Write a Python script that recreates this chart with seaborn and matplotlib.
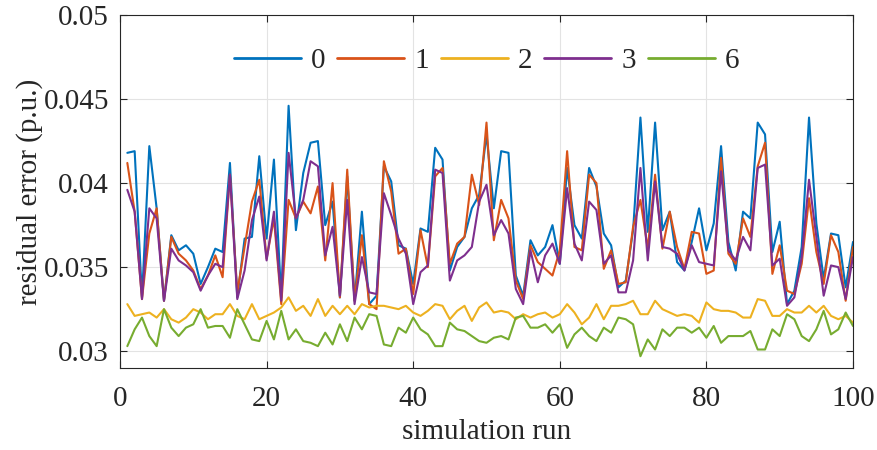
import numpy as np
import pandas as pd
import matplotlib
matplotlib.use("Agg")
import matplotlib.pyplot as plt
import seaborn as sns

runs = list(range(1, 101))
series_names = ["0", "1", "2", "3", "6"]

err_0 = [0.0418, 0.0419, 0.0332, 0.0422, 0.0385, 0.0330, 0.0369, 0.0360, 0.0363, 0.0358,
         0.0340, 0.0350, 0.0361, 0.0359, 0.0412, 0.0332, 0.0367, 0.0368, 0.0416, 0.0367,
         0.0414, 0.0332, 0.0446, 0.0372, 0.0406, 0.0424, 0.0425, 0.0375, 0.0389, 0.0332,
         0.0404, 0.0330, 0.0383, 0.0328, 0.0333, 0.0410, 0.0401, 0.0363, 0.0361, 0.0340,
         0.0373, 0.0371, 0.0421, 0.0414, 0.0348, 0.0362, 0.0368, 0.0385, 0.0393, 0.0429,
         0.0385, 0.0419, 0.0418, 0.0345, 0.0333, 0.0366, 0.0357, 0.0362, 0.0375, 0.0352,
         0.0409, 0.0375, 0.0367, 0.0409, 0.0398, 0.0370, 0.0363, 0.0338, 0.0342, 0.0372,
         0.0439, 0.0371, 0.0436, 0.0372, 0.0383, 0.0353, 0.0348, 0.0365, 0.0385, 0.0360,
         0.0376, 0.0422, 0.0365, 0.0348, 0.0383, 0.0379, 0.0436, 0.0429, 0.0359, 0.0377,
         0.0328, 0.0336, 0.0362, 0.0439, 0.0376, 0.0343, 0.0370, 0.0369, 0.0338, 0.0365]

err_1 = [0.0412, 0.0383, 0.0331, 0.0370, 0.0385, 0.0330, 0.0368, 0.0358, 0.0354, 0.0348,
         0.0337, 0.0345, 0.0357, 0.0344, 0.0405, 0.0335, 0.0362, 0.0389, 0.0402, 0.0355,
         0.0379, 0.0328, 0.0390, 0.0379, 0.0389, 0.0382, 0.0398, 0.0354, 0.0400, 0.0332,
         0.0408, 0.0330, 0.0369, 0.0328, 0.0325, 0.0413, 0.0395, 0.0358, 0.0361, 0.0334,
         0.0372, 0.0350, 0.0404, 0.0409, 0.0352, 0.0364, 0.0368, 0.0405, 0.0387, 0.0436,
         0.0366, 0.0390, 0.0379, 0.0342, 0.0331, 0.0363, 0.0353, 0.0349, 0.0345, 0.0360,
         0.0419, 0.0362, 0.0360, 0.0405, 0.0400, 0.0349, 0.0360, 0.0340, 0.0341, 0.0374,
         0.0390, 0.0361, 0.0405, 0.0361, 0.0383, 0.0362, 0.0349, 0.0371, 0.0370, 0.0346,
         0.0348, 0.0415, 0.0358, 0.0352, 0.0379, 0.0368, 0.0410, 0.0424, 0.0346, 0.0363,
         0.0336, 0.0334, 0.0352, 0.0391, 0.0359, 0.0340, 0.0369, 0.0359, 0.0330, 0.0362]

err_2 = [0.0328, 0.0321, 0.0322, 0.0323, 0.0320, 0.0325, 0.0319, 0.0317, 0.0320, 0.0325,
         0.0323, 0.0319, 0.0322, 0.0322, 0.0328, 0.0321, 0.0319, 0.0328, 0.0319, 0.0321,
         0.0323, 0.0326, 0.0332, 0.0324, 0.0327, 0.0321, 0.0331, 0.0321, 0.0327, 0.0322,
         0.0327, 0.0322, 0.0328, 0.0326, 0.0327, 0.0327, 0.0326, 0.0325, 0.0327, 0.0323,
         0.0321, 0.0324, 0.0328, 0.0327, 0.0319, 0.0324, 0.0327, 0.0318, 0.0326, 0.0329,
         0.0323, 0.0324, 0.0323, 0.0319, 0.0322, 0.0320, 0.0322, 0.0323, 0.0320, 0.0322,
         0.0328, 0.0323, 0.0316, 0.0320, 0.0328, 0.0319, 0.0327, 0.0327, 0.0328, 0.0330,
         0.0322, 0.0322, 0.0330, 0.0325, 0.0323, 0.0321, 0.0322, 0.0321, 0.0317, 0.0329,
         0.0325, 0.0324, 0.0324, 0.0323, 0.0320, 0.0320, 0.0331, 0.0330, 0.0321, 0.0321,
         0.0325, 0.0323, 0.0323, 0.0327, 0.0323, 0.0327, 0.0321, 0.0319, 0.0321, 0.0317]

err_3 = [0.0396, 0.0383, 0.0331, 0.0385, 0.0379, 0.0330, 0.0361, 0.0354, 0.0351, 0.0347,
         0.0336, 0.0345, 0.0352, 0.0350, 0.0405, 0.0331, 0.0348, 0.0378, 0.0392, 0.0354,
         0.0383, 0.0330, 0.0418, 0.0379, 0.0390, 0.0413, 0.0410, 0.0357, 0.0374, 0.0333,
         0.0390, 0.0328, 0.0356, 0.0335, 0.0334, 0.0394, 0.0381, 0.0367, 0.0358, 0.0328,
         0.0347, 0.0351, 0.0408, 0.0406, 0.0342, 0.0354, 0.0357, 0.0362, 0.0389, 0.0399,
         0.0369, 0.0378, 0.0370, 0.0337, 0.0328, 0.0360, 0.0341, 0.0357, 0.0364, 0.0352,
         0.0397, 0.0364, 0.0354, 0.0389, 0.0384, 0.0352, 0.0357, 0.0335, 0.0335, 0.0354,
         0.0409, 0.0354, 0.0401, 0.0362, 0.0361, 0.0358, 0.0348, 0.0363, 0.0353, 0.0352,
         0.0351, 0.0407, 0.0360, 0.0354, 0.0368, 0.0360, 0.0409, 0.0411, 0.0351, 0.0355,
         0.0327, 0.0332, 0.0356, 0.0402, 0.0368, 0.0333, 0.0351, 0.0350, 0.0331, 0.0356]

err_6 = [0.0303, 0.0313, 0.0320, 0.0309, 0.0303, 0.0325, 0.0314, 0.0309, 0.0314, 0.0316,
         0.0325, 0.0314, 0.0315, 0.0315, 0.0308, 0.0325, 0.0316, 0.0307, 0.0306, 0.0318,
         0.0307, 0.0324, 0.0307, 0.0313, 0.0306, 0.0305, 0.0303, 0.0311, 0.0304, 0.0316,
         0.0306, 0.0320, 0.0313, 0.0322, 0.0321, 0.0304, 0.0303, 0.0314, 0.0311, 0.0320,
         0.0313, 0.0310, 0.0303, 0.0303, 0.0317, 0.0313, 0.0312, 0.0309, 0.0306, 0.0305,
         0.0308, 0.0309, 0.0307, 0.0320, 0.0321, 0.0314, 0.0314, 0.0316, 0.0311, 0.0316,
         0.0302, 0.0310, 0.0314, 0.0309, 0.0306, 0.0314, 0.0311, 0.0320, 0.0319, 0.0316,
         0.0297, 0.0307, 0.0301, 0.0313, 0.0309, 0.0314, 0.0314, 0.0311, 0.0314, 0.0308,
         0.0315, 0.0305, 0.0309, 0.0309, 0.0309, 0.0312, 0.0301, 0.0301, 0.0313, 0.0309,
         0.0322, 0.0319, 0.0309, 0.0306, 0.0313, 0.0324, 0.0310, 0.0313, 0.0323, 0.0315]

x_ticks = [0, 20, 40, 60, 80, 100]
y_ticks = [0.03, 0.035, 0.04, 0.045, 0.05]
y_tick_labels = ["0.03", "0.035", "0.04", "0.045", "0.05"]
colors = ["#0072BD", "#D95319", "#EDB120", "#7E2F8E", "#77AC30"]

df = pd.concat([
    pd.DataFrame({"run": runs, "err": vals, "series": name})
    for name, vals in zip(series_names, [err_0, err_1, err_2, err_3, err_6])
], ignore_index=True)

sns.set_theme(style="ticks")
plt.rcParams["font.family"] = ["Liberation Serif", "DejaVu Serif"]

FS = 21
fig = plt.figure(figsize=(8.77, 4.5), dpi=100)
ax = fig.add_axes([120 / 877, 1 - 368 / 450, (853 - 120) / 877, (368 - 15) / 450])

sns.lineplot(data=df, x="run", y="err", hue="series", hue_order=series_names,
             palette=colors, linewidth=1.5, ax=ax, estimator=None, sort=False)

ax.set_xlim(0, 100)
ax.set_ylim(0.029, 0.05)
ax.set_xticks(x_ticks)
ax.set_xticklabels([str(t) for t in x_ticks])
ax.set_yticks(y_ticks)
ax.set_yticklabels(y_tick_labels)
ax.grid(True, color="#e3e3e3", linewidth=0.8)
ax.set_axisbelow(True)
for s in ax.spines.values():
    s.set_visible(True)
    s.set_color("#262626")
    s.set_linewidth(0.8)
ax.tick_params(direction="in", length=5, width=0.8, colors="#262626",
               labelsize=FS, labelcolor="#262626", top=True, right=True)
ax.tick_params(axis="x", pad=13)
ax.tick_params(axis="y", pad=8)
ax.set_xlabel("simulation run", fontsize=FS, color="#262626", labelpad=5)
ax.set_ylabel("residual error (p.u.)", fontsize=FS, color="#262626", labelpad=0)

leg = ax.legend(loc="upper center", bbox_to_anchor=(0.5, 0.94), ncol=5, frameon=False,
                fontsize=FS, handlelength=2.3, handletextpad=0.35, columnspacing=0.4,
                borderaxespad=0.0)
for line in leg.get_lines():
    line.set_linewidth(2.0)

fig.savefig("out.png", dpi=100)
